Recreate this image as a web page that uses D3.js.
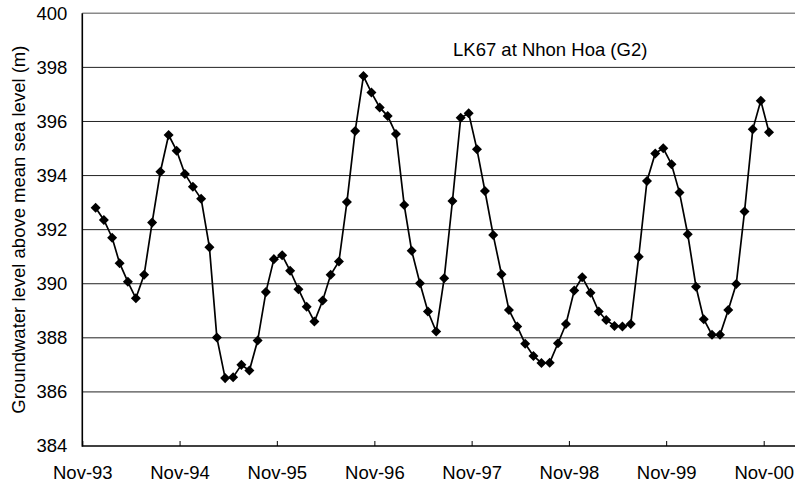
<!DOCTYPE html>
<html>
<head>
<meta charset="utf-8">
<script src="https://cdn.jsdelivr.net/npm/d3@7"></script>
<style>
  body { margin: 0; background: #fff; }
  svg { display: block; font-family: "Liberation Sans", Arial, sans-serif; }
</style>
</head>
<body>
<div id="chart"></div>
<script>
// Monthly readings, Dec-93 .. Nov-00 (one per month)
const firstYear = 1993, firstMonth = 11; // December 1993 (0-based month)
const levels = [
  392.81, 392.36, 391.70, 390.76, 390.07, 389.46, 390.33, 392.26, 394.14, 395.50, 394.92, 394.06,
  393.59, 393.14, 391.35, 388.01, 386.51, 386.54, 387.00, 386.79, 387.90, 389.69, 390.91, 391.05,
  390.48, 389.80, 389.15, 388.60, 389.38, 390.33, 390.82, 393.02, 395.65, 397.68, 397.07, 396.52,
  396.20, 395.54, 392.91, 391.22, 390.02, 388.97, 388.23, 390.20, 393.06, 396.14, 396.30, 394.97,
  393.43, 391.80, 390.35, 389.03, 388.42, 387.78, 387.33, 387.07, 387.08, 387.80, 388.51, 389.75,
  390.24, 389.67, 388.97, 388.66, 388.44, 388.42, 388.51, 391.00, 393.80, 394.82, 395.01, 394.42,
  393.37, 391.83, 389.89, 388.69, 388.11, 388.11, 389.03, 389.99, 392.67, 395.71, 396.77, 395.60
];
const tickYears = [1993, 1994, 1995, 1996, 1997, 1998, 1999, 2000];
const yTicks = [384, 386, 388, 390, 392, 394, 396, 398, 400];
const title = "LK67 at Nhon Hoa (G2)";
const yTitle = "Groundwater level above mean sea level (m)";

const width = 795, height = 488;
const margin = { top: 13.3, right: 0, bottom: 42, left: 82.3 };
const plotBottom = height - margin.bottom; // 446

const data = levels.map((v, i) => ({ date: new Date(firstYear, firstMonth + i, 21), value: v }));
const tickDates = tickYears.map(y => new Date(y, 10, 1));

const svg = d3.select("#chart").append("svg")
  .attr("width", width)
  .attr("height", height);

const x = d3.scaleTime()
  .domain([tickDates[0], tickDates[tickDates.length - 1]])
  .range([margin.left, 763.7]);

const y = d3.scaleLinear()
  .domain([384, 400])
  .range([plotBottom, margin.top]);

// Gridlines
svg.append("g")
  .selectAll("line")
  .data(yTicks.filter(t => t > 384))
  .join("line")
  .attr("x1", margin.left)
  .attr("x2", width)
  .attr("y1", d => y(d))
  .attr("y2", d => y(d))
  .attr("stroke", d => d === 400 ? "#8a8a8a" : "#222")
  .attr("stroke-width", d => d === 400 ? 1.6 : 1);

// Y axis
const yAxis = d3.axisLeft(y).tickValues(yTicks).tickSize(0).tickPadding(15);
const yG = svg.append("g")
  .attr("transform", `translate(${margin.left},0)`)
  .call(yAxis);
yG.select(".domain").remove();
yG.selectAll("text").attr("font-size", "18.5px").attr("fill", "#000")
  .attr("font-family", "Liberation Sans, Arial, sans-serif");

// X axis (ticks point up into the plot)
const xAxis = d3.axisBottom(x)
  .tickValues(tickDates)
  .tickSizeInner(-5)
  .tickSizeOuter(0)
  .tickPadding(14)
  .tickFormat(d3.timeFormat("%b-%y"));
const xG = svg.append("g")
  .attr("transform", `translate(0,${plotBottom})`)
  .call(xAxis);
xG.select(".domain").remove();
xG.selectAll(".tick line").attr("stroke", "#000").attr("stroke-width", 1);
xG.selectAll("text").attr("font-size", "18.5px").attr("fill", "#000")
  .attr("font-family", "Liberation Sans, Arial, sans-serif")
  .attr("dy", "1.05em");

// Axis lines
svg.append("line")
  .attr("x1", margin.left).attr("x2", width)
  .attr("y1", plotBottom).attr("y2", plotBottom)
  .attr("stroke", "#000").attr("stroke-width", 1.6);
svg.append("line")
  .attr("x1", margin.left).attr("x2", margin.left)
  .attr("y1", margin.top).attr("y2", plotBottom + 0.8)
  .attr("stroke", "#000").attr("stroke-width", 1.6);

// Series line
const line = d3.line()
  .x(d => x(d.date))
  .y(d => y(d.value));

svg.append("path")
  .datum(data)
  .attr("fill", "none")
  .attr("stroke", "#000")
  .attr("stroke-width", 1.7)
  .attr("d", line);

// Diamond markers
const diamond = d3.symbol().type(d3.symbolDiamond2).size(64);
svg.append("g")
  .selectAll("path")
  .data(data)
  .join("path")
  .attr("transform", d => `translate(${x(d.date)},${y(d.value)})`)
  .attr("d", diamond)
  .attr("fill", "#000");

// Title inside the plot
svg.append("text")
  .attr("x", 453)
  .attr("y", 56)
  .attr("font-size", "18.5px")
  .text(title);

// Y axis title
svg.append("text")
  .attr("transform", "rotate(-90)")
  .attr("x", -(margin.top + plotBottom) / 2)
  .attr("y", 24.5)
  .attr("text-anchor", "middle")
  .attr("font-size", "18.5px")
  .text(yTitle);
</script>
</body>
</html>
